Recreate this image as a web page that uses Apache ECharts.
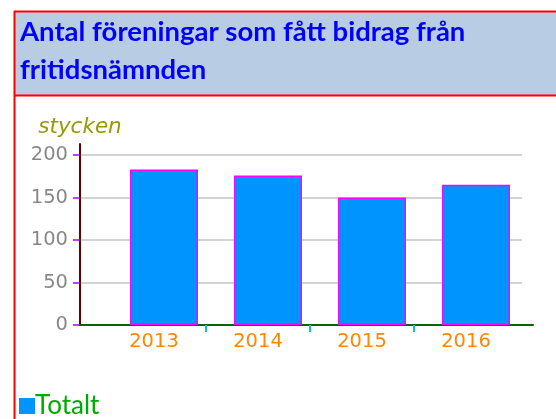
<!DOCTYPE html>
<html>
<head>
<meta charset="utf-8">
<script src="https://cdn.jsdelivr.net/npm/echarts@6/dist/echarts.min.js"></script>
<style>
html,body{margin:0;padding:0;background:#fff;overflow:hidden;}
#chart{width:556px;height:419px;}
</style>
</head>
<body>
<div id="chart"></div>
<script>
var titleText = 'Antal föreningar som fått bidrag från\nfritidsnämnden';
var unitLabel = 'stycken';
var seriesName = 'Totalt';
var years = ['2013', '2014', '2015', '2016'];
var values = [183, 176, 150, 165];
var yTicks = [0, 50, 100, 150, 200];

var chart = echarts.init(document.getElementById('chart'), null, {renderer: 'canvas'});
var bandTicks = years.slice(1).map(function (y, i) { return i + 1; });
var bandCenters = years.map(function (y, i) { return i + 0.5; });
var hiddenAxis = {axisLine: {show: false}, axisTick: {show: false}, axisLabel: {show: false}, splitLine: {show: false}};

var option = {
  animation: false,
  backgroundColor: '#fff',
  graphic: [
    {type: 'rect', shape: {x: 15, y: 12, width: 541, height: 83}, style: {fill: '#b8cce4'}, z: -10},
    {type: 'line', shape: {x1: 14, y1: 11.5, x2: 556, y2: 11.5}, style: {stroke: '#f00', lineWidth: 2}},
    {type: 'line', shape: {x1: 14.5, y1: 11, x2: 14.5, y2: 419}, style: {stroke: '#f00', lineWidth: 2}},
    {type: 'line', shape: {x1: 14, y1: 95.5, x2: 556, y2: 95.5}, style: {stroke: '#f00', lineWidth: 2}}
  ],
  title: {
    text: titleText, left: 20, top: 13, padding: 0,
    textStyle: {fontFamily: 'Lato', fontWeight: 'bold', fontSize: 27.5, lineHeight: 38, color: '#00f'}
  },
  legend: {
    data: [seriesName], left: 19, top: 393, padding: 0,
    icon: 'rect', itemWidth: 16, itemHeight: 16, itemStyle: {borderWidth: 0},
    textStyle: {fontFamily: 'Lato', fontSize: 26, color: '#0a0', padding: [0, 0, 0, -5]}
  },
  grid: [
    {left: 80, top: 155, width: 442, height: 170, outerBoundsMode: 'none'},
    {left: 112, top: 155, width: 416, height: 170, outerBoundsMode: 'none'},
    {left: 102, top: 155, width: 416, height: 170, outerBoundsMode: 'none'},
    {left: 80, top: 144, width: 453, height: 181, outerBoundsMode: 'none'}
  ],
  xAxis: [
    Object.assign({gridIndex: 0, type: 'category', data: years}, hiddenAxis),
    Object.assign({gridIndex: 1, type: 'category', data: years}, hiddenAxis),
    {gridIndex: 2, type: 'value', min: 0, max: years.length,
      axisLine: {show: false},
      axisTick: {show: true, length: 7, customValues: bandTicks, lineStyle: {color: '#0cc', width: 2}},
      axisLabel: {margin: 7, customValues: bandCenters, fontFamily: 'DejaVu Sans', fontSize: 19.5, color: '#f80',
        formatter: function (v) { return years[Math.floor(v)] || ''; }},
      splitLine: {show: false}},
    {gridIndex: 3, type: 'value', min: 0, max: 1,
      axisLine: {show: true, onZero: false, lineStyle: {color: '#060', width: 2}},
      axisTick: {show: false}, axisLabel: {show: false}, splitLine: {show: false}}
  ],
  yAxis: [
    {gridIndex: 0, type: 'value', min: yTicks[0], max: yTicks[yTicks.length - 1], interval: yTicks[1] - yTicks[0],
      name: unitLabel, nameLocation: 'end', nameGap: 17,
      nameTextStyle: {fontFamily: 'DejaVu Sans', fontStyle: 'italic', fontSize: 21.5, color: '#990'},
      axisLine: {show: false},
      axisTick: {show: true, length: 7, lineStyle: {color: '#a0f', width: 1.5}},
      axisLabel: {margin: 12, fontFamily: 'DejaVu Sans', fontSize: 19.5, color: '#888'},
      splitLine: {show: true, lineStyle: {color: '#c4c4c4', width: 1.5}}},
    Object.assign({gridIndex: 1, type: 'value', min: yTicks[0], max: yTicks[yTicks.length - 1]}, hiddenAxis),
    Object.assign({gridIndex: 2, type: 'value', min: 0, max: 1}, hiddenAxis),
    {gridIndex: 3, type: 'value', min: 0, max: 1,
      axisLine: {show: true, onZero: false, lineStyle: {color: '#600', width: 2}},
      axisTick: {show: false}, axisLabel: {show: false}, splitLine: {show: false}}
  ],
  series: [
    {name: seriesName, type: 'bar', xAxisIndex: 1, yAxisIndex: 1, data: values, barWidth: 68,
      itemStyle: {color: '#0094ff', borderColor: '#f0f', borderWidth: 1.5}, z: 3}
  ]
};
chart.setOption(option);
</script>
</body>
</html>
